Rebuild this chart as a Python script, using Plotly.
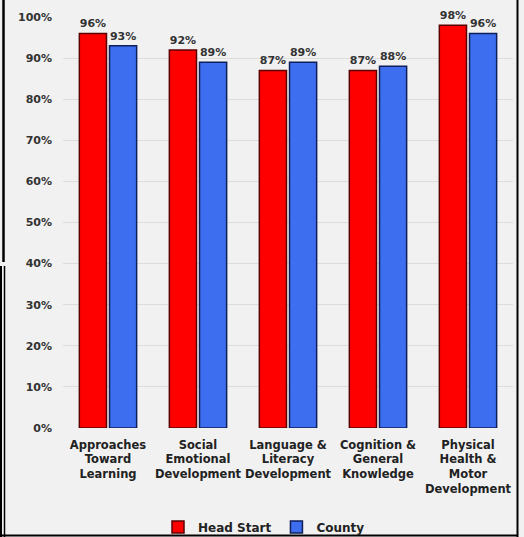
import plotly.graph_objects as go

categories = ["Approaches<br>Toward<br>Learning", "Social<br>Emotional<br>Development",
              "Language &<br>Literacy<br>Development", "Cognition &<br>General<br>Knowledge",
              "Physical<br>Health &<br>Motor<br>Development"]
head_start = [96, 92, 87, 87, 98]
county = [93, 89, 89, 88, 96]
y_ticks = [0, 10, 20, 30, 40, 50, 60, 70, 80, 90, 100]
y_tick_labels = [f"{v}%" for v in y_ticks]

FONT = "DejaVu Sans"
BG = "#f1f1f1"

fig = go.Figure()
fig.add_trace(go.Bar(
    name="<b>Head Start</b>", x=categories, y=head_start,
    marker=dict(color="#ff0000", line=dict(color="#5a0000", width=1.5)),
    text=[f"<b>{v}%</b>" for v in head_start], textposition="outside",
    textfont=dict(family=FONT, size=11, color="#333333"), cliponaxis=False,
))
fig.add_trace(go.Bar(
    name="<b>County</b>", x=categories, y=county,
    marker=dict(color="#3d6ef0", line=dict(color="#0f1f5a", width=1.5)),
    text=[f"<b>{v}%</b>" for v in county], textposition="outside",
    textfont=dict(family=FONT, size=11, color="#333333"), cliponaxis=False,
))

def px_x(px):
    return (px - 63) / 450

def px_y(py):
    return (428 - py) / 411

shapes = [
    dict(type="line", xref="paper", yref="paper", x0=px_x(3.5), x1=px_x(3.5), y0=px_y(0), y1=px_y(262),
         line=dict(color="black", width=2.5)),
    dict(type="line", xref="paper", yref="paper", x0=px_x(1), x1=px_x(1), y0=px_y(266), y1=px_y(537),
         line=dict(color="black", width=2)),
    dict(type="line", xref="paper", yref="paper", x0=px_x(4.5), x1=px_x(4.5), y0=px_y(266), y1=px_y(537),
         line=dict(color="black", width=1.5)),
    dict(type="line", xref="paper", yref="paper", x0=px_x(517.5), x1=px_x(517.5), y0=px_y(0), y1=px_y(537),
         line=dict(color="black", width=2)),
    dict(type="line", xref="paper", yref="paper", x0=px_x(0), x1=px_x(518), y0=px_y(535.5), y1=px_y(535.5),
         line=dict(color="black", width=2)),
]

fig.update_layout(
    width=524, height=537,
    margin=dict(l=63, r=11, t=17, b=109, autoexpand=False),
    paper_bgcolor=BG, plot_bgcolor=BG,
    barmode="group", bargap=0.33, bargroupgap=0.1,
    font=dict(family=FONT, color="#222222"),
    showlegend=True,
    legend=dict(orientation="h", x=px_x(264), xanchor="center", y=px_y(527), yanchor="middle",
                font=dict(family=FONT, size=12, color="#222222"), bgcolor="rgba(0,0,0,0)",
                itemwidth=30, tracegroupgap=0),
    shapes=shapes,
)
fig.update_yaxes(range=[0, 100], tickvals=y_ticks, ticktext=[f"<b>{t}</b>" for t in y_tick_labels],
                 tickfont=dict(family=FONT, size=11, color="#333333"),
                 showgrid=True, gridcolor="#dcdcdc", gridwidth=1, zeroline=False,
                 showline=False, ticks="", ticklabelstandoff=10, automargin=False)
fig.update_xaxes(tickvals=categories, ticktext=[f"<b>{c}</b>" for c in categories],
                 tickfont=dict(family=FONT, size=11.5, color="#222222"),
                 showline=False, ticks="", tickangle=0, ticklabelstandoff=8, automargin=False)

fig.write_html("out.html", config={"displayModeBar": False},
               post_script="document.body.style.margin='0';document.body.style.overflow='hidden';")
